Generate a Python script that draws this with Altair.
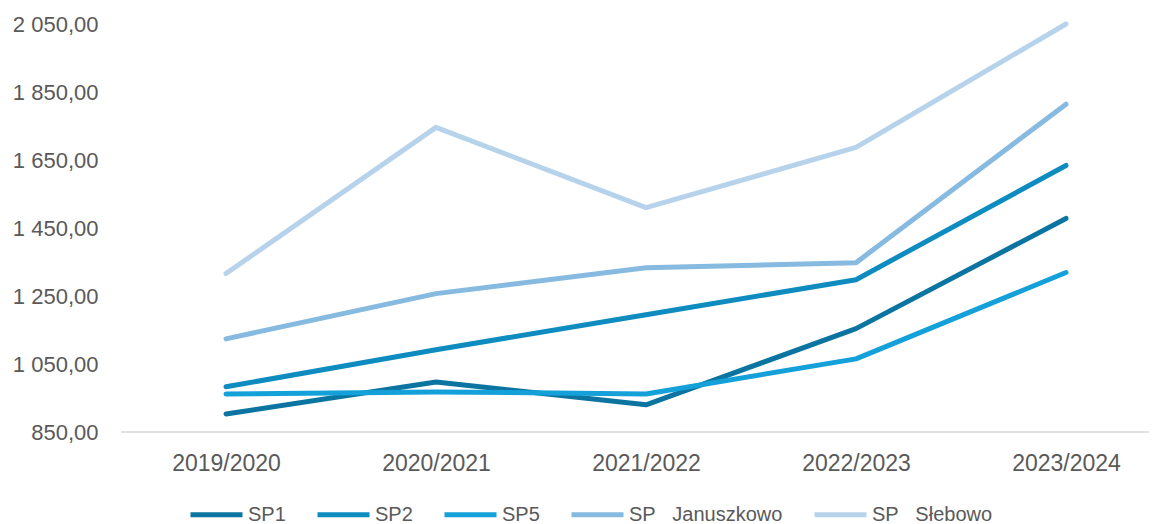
import altair as alt
import pandas as pd

years = ["2019/2020", "2020/2021", "2021/2022", "2022/2023", "2023/2024"]
series_names = ["SP1", "SP2", "SP5", "SP\u00a0\u00a0\u00a0Januszkowo", "SP\u00a0\u00a0\u00a0Słebowo"]
sp1 = [903, 997, 930, 1154, 1478]
sp2 = [983, 1092, 1195, 1298, 1634]
sp5 = [962, 968, 962, 1065, 1319]
janusz = [1124, 1257, 1333, 1348, 1814]
slebowo = [1316, 1746, 1510, 1687, 2050]
colors = ["#0B74A0", "#0E8CC0", "#14A0D8", "#86BAE0", "#B7D3EC"]

rows = []
for name, vals in zip(series_names, [sp1, sp2, sp5, janusz, slebowo]):
    for y, v in zip(years, vals):
        rows.append({"year": y, "value": v, "series": name})
df = pd.DataFrame(rows)

FONT = "Liberation Sans"
W, H = 1028, 408

lines = alt.Chart(df).mark_line(strokeWidth=5, strokeCap="round", strokeJoin="round").encode(
    x=alt.X("year:N", sort=years, title=None,
            scale=alt.Scale(type="point", range=[105, 945], padding=0),
            axis=alt.Axis(labelAngle=0, ticks=False, domain=False,
                          labelFont=FONT, labelFontSize=23, labelColor="#595959",
                          labelPadding=20, grid=False)),
    y=alt.Y("value:Q", title=None,
            scale=alt.Scale(domain=[850, 2050], nice=False, zero=False),
            axis=alt.Axis(values=[850, 1050, 1250, 1450, 1650, 1850, 2050], domain=False, ticks=False,
                          grid=False, labelFont=FONT, labelFontSize=22, labelColor="#595959",
                          labelPadding=23,
                          labelExpr="replace(replace(format(datum.value, ',.2f'), ',', ' '), '.', ',')")),
    color=alt.Color("series:N", sort=series_names,
                    scale=alt.Scale(domain=series_names, range=colors),
                    legend=alt.Legend(title=None, orient="none", direction="horizontal",
                                      legendX=67, legendY=462, symbolType="stroke",
                                      symbolSize=2704, symbolStrokeWidth=5,
                                      labelFont=FONT, labelFontSize=20, labelColor="#595959",
                                      labelOffset=3, columnPadding=21, labelLimit=300)),
    order=alt.Order("year:N"),
)

baseline = alt.Chart(pd.DataFrame({"v": [850]})).mark_rule(color="#d9d9d9", strokeWidth=1.5).encode(
    y=alt.Y("v:Q"), x=alt.value(0), x2=alt.value(W)
)

chart = alt.layer(baseline, lines).properties(
    width=W, height=H,
    autosize=alt.AutoSizeParams(type="none"),
    padding={"left": 113, "top": 16, "right": 0, "bottom": 92},
).configure_view(stroke=None)

chart.save("out.html", embed_options={"renderer": "svg", "actions": False})
